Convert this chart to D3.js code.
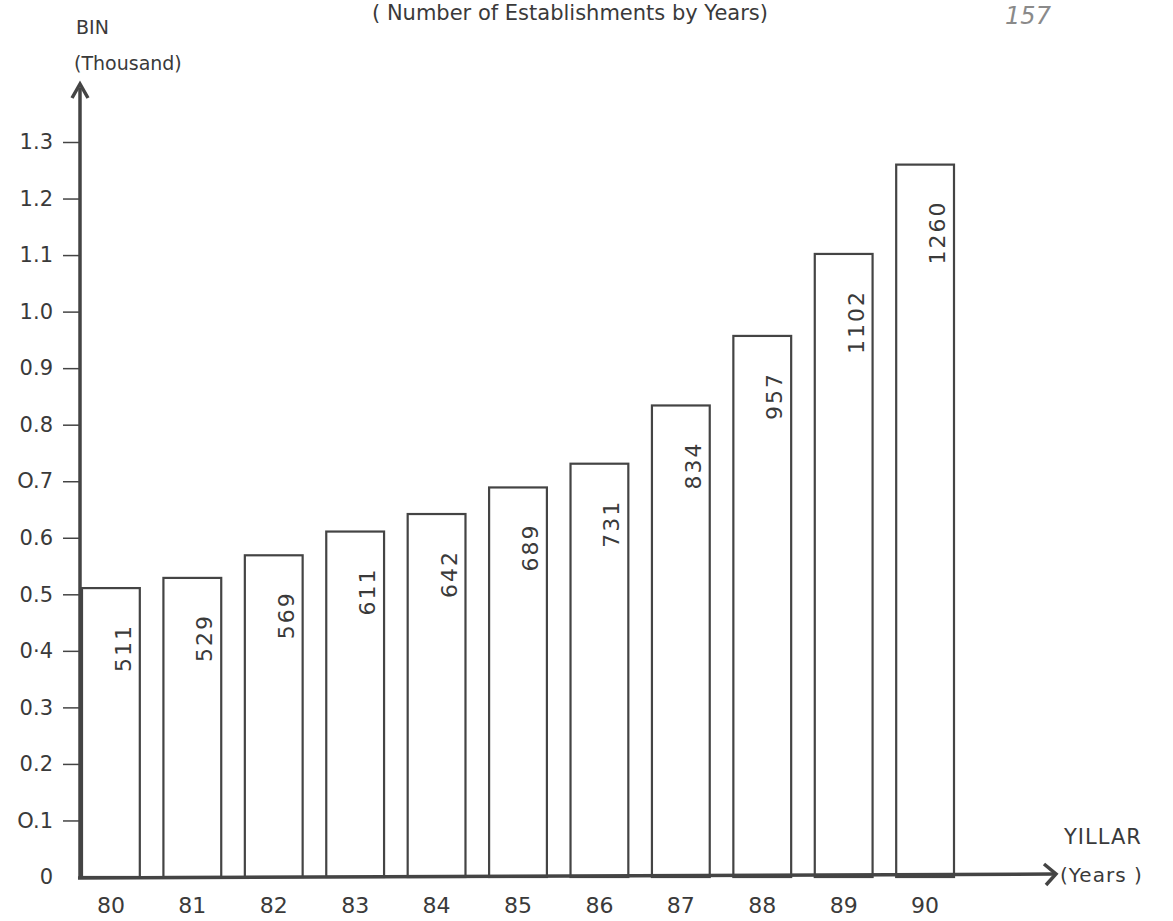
<!DOCTYPE html>
<html><head><meta charset="utf-8">
<script src="https://cdn.jsdelivr.net/npm/d3@7"></script>
<style>body{margin:0;background:#fff;}svg{display:block;}text{font-family:"DejaVu Sans",sans-serif;fill:#3a3a3a;}</style>
</head><body>
<script>
const years = ["80","81","82","83","84","85","86","87","88","89","90"];
const values = [511,529,569,611,642,689,731,834,957,1102,1260];
const yTicks = [0,0.1,0.2,0.3,0.4,0.5,0.6,0.7,0.8,0.9,1.0,1.1,1.2,1.3];
const yTickLabels = ["0","O.1","0.2","0.3","0·4","0.5","0.6","O.7","0.8","0.9","1.0","1.1","1.2","1.3"];

const W=1173,H=921;
const svg=d3.select("body").append("svg").attr("width",W).attr("height",H);
const ink="#444";
const y=d3.scaleLinear().domain([0,1.3]).range([877,142]);
const x=d3.scaleBand().domain(years).range([82,954]).paddingInner(0.29).paddingOuter(0);

// title
svg.append("text").attr("x",570).attr("y",20).attr("text-anchor","middle").attr("font-size",21)
  .text("( Number of Establishments by Years)");
svg.append("text").attr("x",1028).attr("y",24).attr("text-anchor","middle").attr("font-size",24)
  .attr("font-style","italic").style("fill","#8a8a8a").text("157");
svg.append("text").attr("x",76).attr("y",34).attr("font-size",19).text("BIN");
svg.append("text").attr("x",74).attr("y",70).attr("font-size",19).text("(Thousand)");

// bars
svg.append("g").selectAll("rect").data(values).join("rect")
  .attr("x",(d,i)=>x(years[i])).attr("width",x.bandwidth())
  .attr("y",d=>y(d/1000)).attr("height",d=>y(0)-y(d/1000))
  .attr("fill","#fff").attr("stroke",ink).attr("stroke-width",2.2);

// value labels
svg.append("g").selectAll("text").data(values).join("text")
  .attr("transform",(d,i)=>`translate(${x(years[i])+x.bandwidth()/2+20},${y(d/1000)+36}) rotate(-90)`)
  .attr("text-anchor","end").attr("font-size",22).attr("letter-spacing",2)
  .text(d=>d);

// y axis
const yAxis=d3.axisLeft(y).tickValues(yTicks).tickSize(17).tickPadding(10)
  .tickFormat((d,i)=>yTickLabels[i]);
const gy=svg.append("g").attr("transform","translate(80,0)").call(yAxis);
gy.select(".domain").remove();
gy.selectAll("line").attr("stroke",ink).attr("stroke-width",1.5);
gy.selectAll("text").attr("font-size",21).attr("font-family","DejaVu Sans").style("fill","#3a3a3a");
gy.selectAll(".tick").filter(d=>d===0).select("line").remove();

// x axis labels
const xAxis=d3.axisBottom(x).tickSize(0).tickPadding(20);
const gx=svg.append("g").attr("transform","translate(0,877)").call(xAxis);
gx.select(".domain").remove();
gx.selectAll("text").attr("font-size",22).attr("font-family","DejaVu Sans").style("fill","#3a3a3a");

// axis lines with arrows
svg.append("line").attr("x1",80).attr("x2",80).attr("y1",878).attr("y2",88).attr("stroke",ink).attr("stroke-width",3.5);
svg.append("path").attr("d","M72,98 L80,84 L88,98").attr("fill","none").attr("stroke",ink).attr("stroke-width",3.5);
svg.append("line").attr("x1",78).attr("x2",1055).attr("y1",878).attr("y2",874).attr("stroke",ink).attr("stroke-width",3.5);
svg.append("path").attr("d","M1044,864 L1056,874 L1046,885").attr("fill","none").attr("stroke",ink).attr("stroke-width",3.5);

svg.append("text").attr("x",1064).attr("y",844).attr("font-size",21).attr("letter-spacing",1).text("YILLAR");
svg.append("text").attr("x",1060).attr("y",882).attr("font-size",20).attr("letter-spacing",1).text("(Years )");
</script>
</body></html>
